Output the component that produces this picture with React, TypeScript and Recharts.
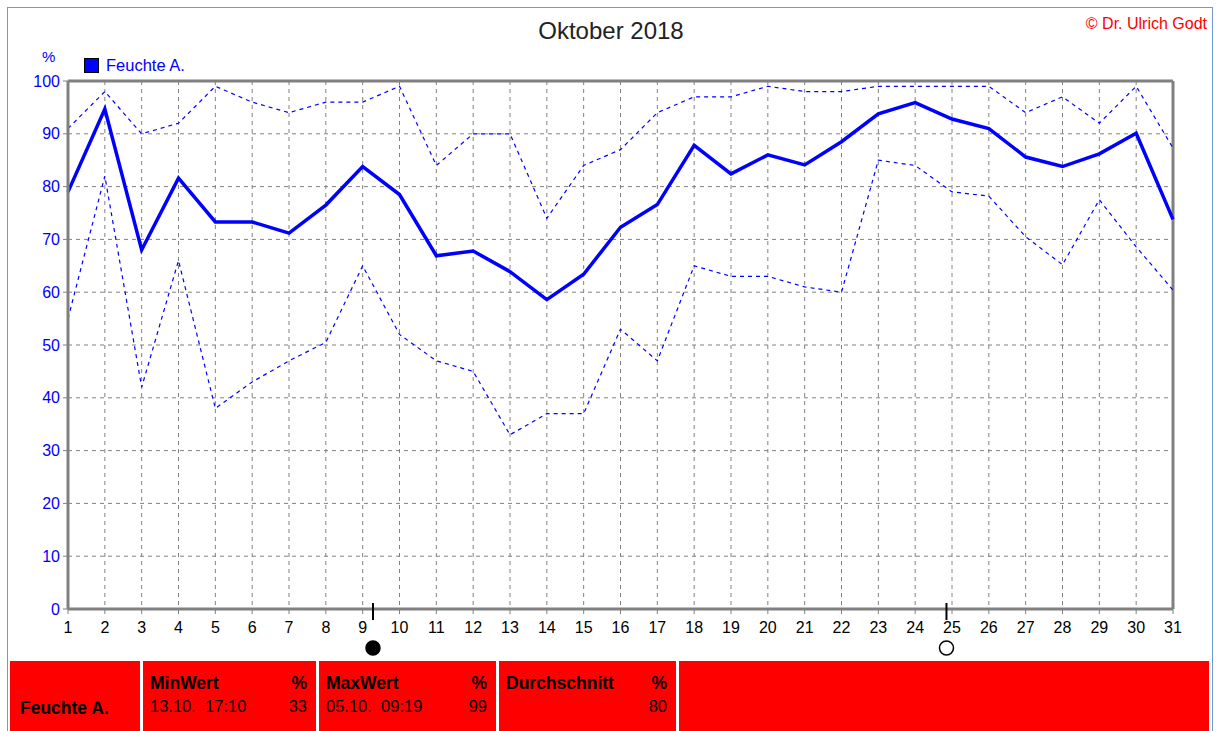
import React from 'react';
import {
  LineChart,
  Line,
  XAxis,
  YAxis,
  CartesianGrid,
  ReferenceLine,
  ReferenceDot
} from 'recharts';

const days = [1, 2, 3, 4, 5, 6, 7, 8, 9, 10, 11, 12, 13, 14, 15, 16, 17, 18, 19, 20, 21, 22, 23, 24, 25, 26, 27, 28, 29, 30, 31];
const avgValues = [79, 94.7, 68, 81.6, 73.3, 73.3, 71.2, 76.5, 83.8, 78.5, 66.9, 67.8, 63.9, 58.6, 63.4, 72.3, 76.6, 87.8, 82.4, 86, 84.1, 88.5, 93.8, 95.9, 92.8, 91, 85.6, 83.8, 86.2, 90.1, 73.8];
const maxValues = [91, 98, 90, 92, 99, 96, 94, 96, 96, 99, 84, 90, 90, 74, 84, 87, 94, 97, 97, 99, 98, 98, 99, 99, 99, 99, 94, 97, 92, 99, 87.3];
const minValues = [55, 82, 42, 66, 38, 43, 47, 50.5, 65, 52, 47, 45, 33, 37, 37, 53, 47, 65, 63, 63, 61, 60, 85, 84, 79, 78.2, 70.5, 65.2, 77.5, 68.6, 60.4];
const yTicks = [0, 10, 20, 30, 40, 50, 60, 70, 80, 90, 100];

const moonDays = [9.28, 24.85];
const moonFull = [false, true];

const summaryHeads = ['MinWert', 'MaxWert', 'Durchschnitt'];
const summaryTimes = ['13.10.  17:10', '05.10.  09:19', ''];
const summaryValues = ['33', '99', '80'];

const chartData = days.map((d, i) => ({
  day: d,
  avg: avgValues[i],
  max: maxValues[i],
  min: minValues[i]
}));

const font = '"Liberation Sans", Arial, sans-serif';

const MoonShape = (full: boolean) => (props: any) => {
  const { cx, cy } = props;
  return (
    <g>
      <line x1={cx} x2={cx} y1={cy - 6} y2={cy + 11} stroke="#000" strokeWidth={2} />
      <circle
        cx={cx}
        cy={cy + 39}
        r={7}
        fill={full ? '#fff' : '#000'}
        stroke="#000"
        strokeWidth={1.5}
      />
    </g>
  );
};

const cellStyle: React.CSSProperties = {
  background: '#ff0000',
  height: 70,
  boxSizing: 'border-box',
  padding: '12px 9px 0 7px',
  fontFamily: font,
  fontSize: 16.5,
  color: '#000'
};

export default function App() {
  return (
    <div
      style={{
        position: 'absolute',
        left: 0,
        top: 0,
        width: 1218,
        height: 731,
        overflow: 'hidden',
        background: '#fff'
      }}
    >
      {/* outer frame */}
      <div
        style={{
          position: 'absolute',
          left: 7,
          top: 7,
          width: 1204,
          height: 740,
          border: '1px solid #6f9bd0'
        }}
      />
      <div
        style={{
          position: 'absolute',
          left: 0,
          width: 1222,
          top: 17,
          textAlign: 'center',
          fontFamily: font,
          fontSize: 24,
          color: '#222'
        }}
      >
        Oktober 2018
      </div>
      <div
        style={{
          position: 'absolute',
          right: 11,
          top: 15,
          fontFamily: font,
          fontSize: 16,
          color: '#ff0000'
        }}
      >
        © Dr. Ulrich Godt
      </div>
      <div
        style={{
          position: 'absolute',
          left: 42,
          top: 48,
          fontFamily: font,
          fontSize: 15,
          color: '#0000ff'
        }}
      >
        %
      </div>
      <div
        style={{
          position: 'absolute',
          left: 84,
          top: 56,
          display: 'flex',
          alignItems: 'center',
          fontFamily: font,
          fontSize: 16.5,
          color: '#0000ff'
        }}
      >
        <span
          style={{
            width: 13,
            height: 13,
            background: '#0000ff',
            border: '1px solid #000',
            marginRight: 7,
            display: 'inline-block'
          }}
        />
        Feuchte A.
      </div>

      <div style={{ position: 'absolute', left: 0, top: 0 }}>
        <LineChart
          width={1218}
          height={731}
          data={chartData}
          margin={{ top: 81, right: 45, bottom: 92, left: 8 }}
        >
          <CartesianGrid stroke="#808080" strokeDasharray="4 4" />
          <XAxis
            dataKey="day"
            type="number"
            domain={[1, 31]}
            ticks={days}
            interval={0}
            height={30}
            tickSize={5}
            tickMargin={8}
            axisLine={{ stroke: '#808080', strokeWidth: 3 }}
            tickLine={{ stroke: '#808080' }}
            tick={{ fill: '#000', fontSize: 16, fontFamily: font }}
          />
          <YAxis
            type="number"
            domain={[0, 100]}
            ticks={yTicks}
            interval={0}
            width={60}
            tickSize={5}
            tickMargin={3}
            axisLine={{ stroke: '#808080', strokeWidth: 3 }}
            tickLine={{ stroke: '#808080' }}
            tick={{ fill: '#0000ff', fontSize: 16, fontFamily: font }}
          />
          <ReferenceLine y={100} stroke="#808080" strokeWidth={3} />
          <ReferenceLine x={31} stroke="#808080" strokeWidth={3} />
          <Line
            type="linear"
            dataKey="max"
            stroke="#0000ff"
            strokeWidth={1.2}
            strokeDasharray="4 4"
            dot={false}
            isAnimationActive={false}
          />
          <Line
            type="linear"
            dataKey="min"
            stroke="#0000ff"
            strokeWidth={1.2}
            strokeDasharray="4 4"
            dot={false}
            isAnimationActive={false}
          />
          <Line
            type="linear"
            dataKey="avg"
            stroke="#0000ff"
            strokeWidth={3.5}
            dot={false}
            isAnimationActive={false}
          />
          {moonDays.map((d, i) => (
            <ReferenceDot
              key={`moon-${i}`}
              x={d}
              y={0}
              r={1}
              ifOverflow="visible"
              shape={MoonShape(moonFull[i])}
            />
          ))}
        </LineChart>
      </div>

      {/* summary table */}
      <div
        style={{
          position: 'absolute',
          left: 10,
          top: 661,
          display: 'flex',
          gap: 3
        }}
      >
        <div style={{ ...cellStyle, width: 130, paddingLeft: 10, paddingTop: 37, fontWeight: 'bold', fontSize: 17.5 }}>
          Feuchte A.
        </div>
        {summaryHeads.map((h, i) => (
          <div key={h} style={{ ...cellStyle, width: i === 0 ? 173 : 177 }}>
            <div style={{ display: 'flex', justifyContent: 'space-between', fontWeight: 'bold', fontSize: 17.5 }}>
              <span>{h}</span>
              <span>%</span>
            </div>
            <div style={{ display: 'flex', justifyContent: 'space-between', marginTop: 3 }}>
              <span style={{ whiteSpace: 'pre' }}>{summaryTimes[i]}</span>
              <span>{summaryValues[i]}</span>
            </div>
          </div>
        ))}
        <div style={{ ...cellStyle, width: 530 }} />
      </div>
    </div>
  );
}
